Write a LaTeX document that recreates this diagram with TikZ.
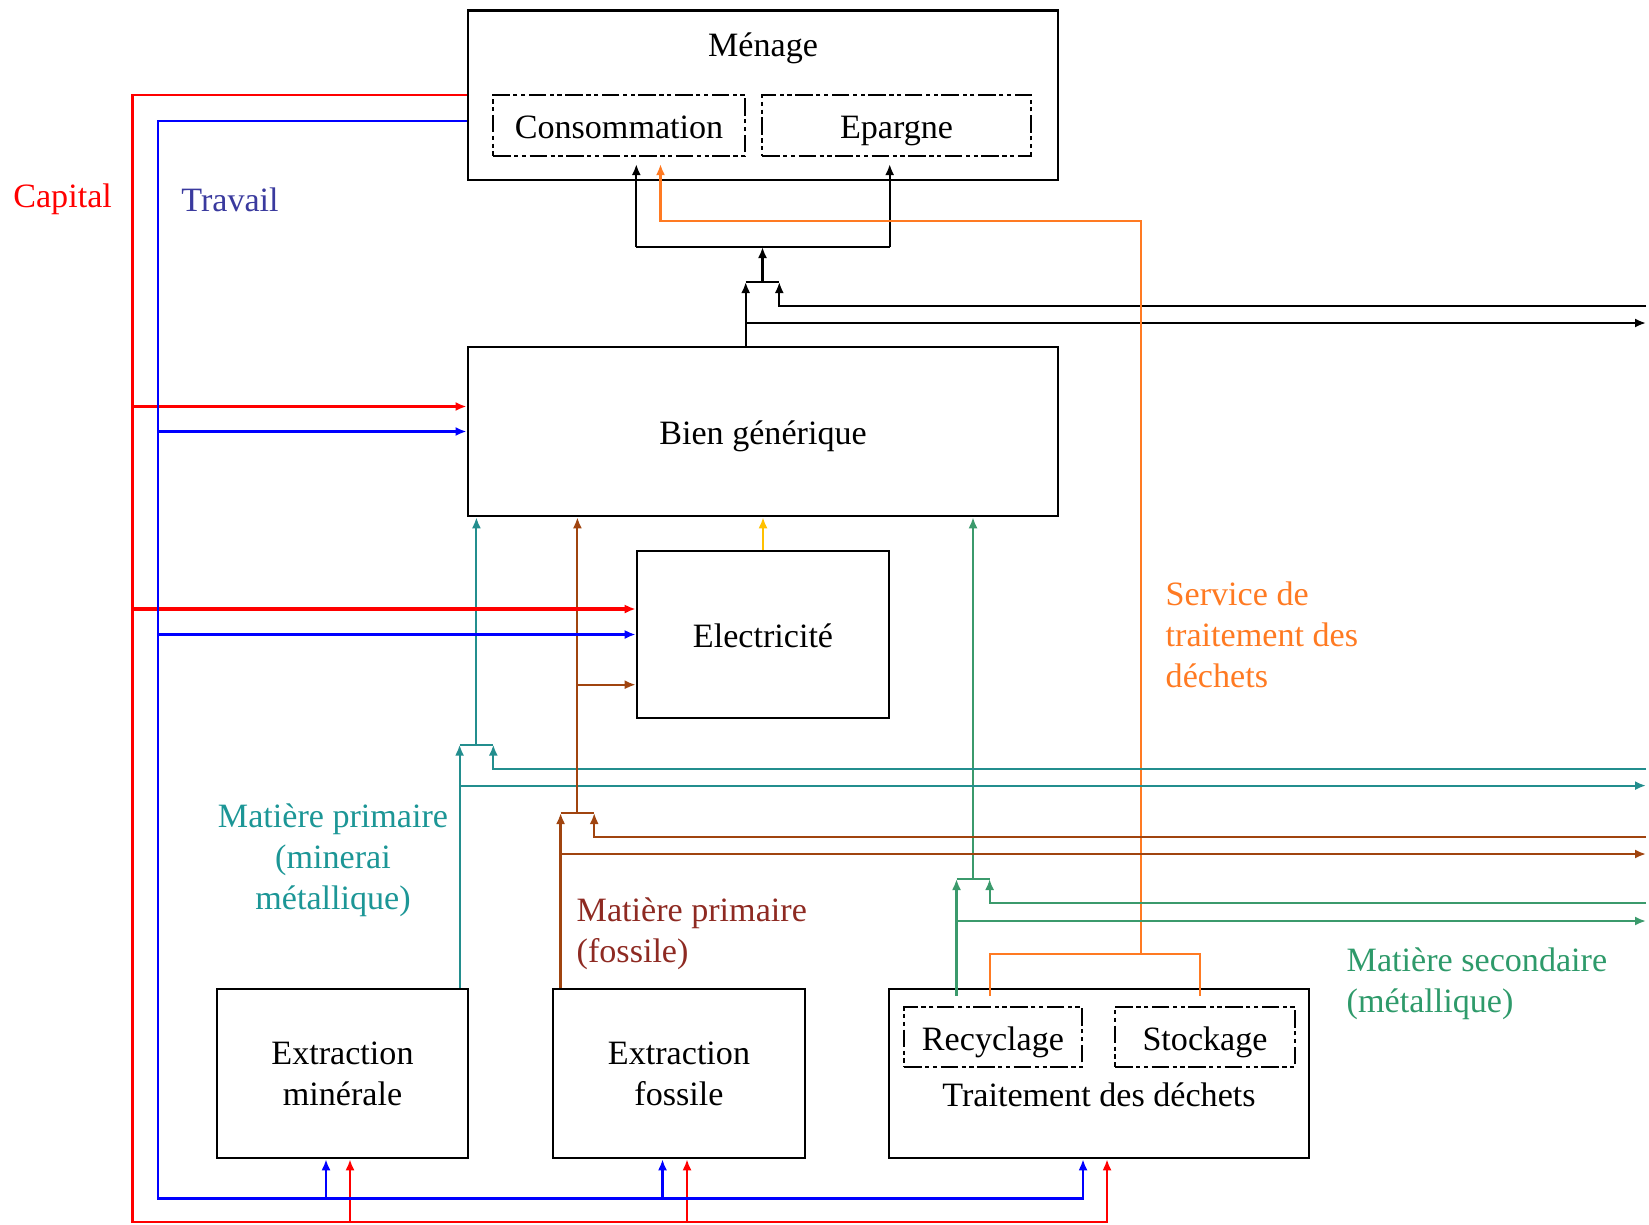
\documentclass[tikz,border=0pt]{standalone}
\usepackage{fontspec}
\setmainfont{Liberation Serif}
\usepackage{tikz}
\usetikzlibrary{arrows.meta,calc}
\definecolor{capred}{HTML}{FF0000}
\definecolor{travblue}{HTML}{0000FF}
\definecolor{travtext}{HTML}{3A3A9E}
\definecolor{minteal}{HTML}{238E8E}
\definecolor{mintext}{HTML}{1C9696}
\definecolor{fosbrown}{HTML}{A0440F}
\definecolor{fostext}{HTML}{8E2A22}
\definecolor{secgreen}{HTML}{3B9A6C}
\definecolor{sectext}{HTML}{2E9A6A}
\definecolor{dechorange}{HTML}{FF7A22}
\definecolor{elecyellow}{HTML}{FFC000}

\begin{document}
\begin{tikzpicture}[x=0.01cm,y=-0.01cm,
  font=\fontsize{9.7}{11.6}\selectfont,
  box/.style={draw,line width=0.7pt,inner sep=0pt,align=center},
  sub/.style={draw,line width=0.6pt,inner sep=0pt,text height=7.4pt,text depth=0pt,dash pattern=on 5pt off 1pt on 1.2pt off 1pt on 1.2pt off 1pt},
  txt/.style={inner sep=0pt,align=center},
  one/.style={text height=7.6pt,text depth=0pt},
  arr/.style={-{Latex[length=1.1mm,width=0.9mm]}},
  bflow/.style={line width=0.6pt},
  cflow/.style={capred,line width=0.6pt},
  tflow/.style={travblue,line width=0.6pt},
  mflow/.style={minteal,line width=0.6pt},
  fflow/.style={fosbrown,line width=0.6pt},
  sflow/.style={secgreen,line width=0.6pt},
  dflow/.style={dechorange,line width=0.6pt},
  eflow/.style={elecyellow,line width=0.6pt},
  heavy/.style={line width=0.9pt}
]
\useasboundingbox (0,0) rectangle (1649,1224);

\node[box,minimum width=5.9cm,minimum height=1.695cm] (menage) at (763,95.25) {};
\node[txt,one] (menageT) at (763,43) {Ménage};
\node[sub,minimum width=2.52cm,minimum height=0.61cm] (conso) at (619,125.5) {Consommation};
\node[sub,minimum width=2.69cm,minimum height=0.61cm] (epargne) at (896.5,125.5) {Epargne};
\node[box,one,minimum width=5.9cm,minimum height=1.69cm] (bien) at (763,431.5) {Bien générique};
\node[box,one,minimum width=2.52cm,minimum height=1.67cm] (elec) at (763,634.5) {Electricité};
\node[box,minimum width=2.51cm,minimum height=1.69cm] (extmin) at (342.5,1073.5) {Extraction\\minérale};
\node[box,minimum width=2.52cm,minimum height=1.69cm] (extfos) at (679,1073.5) {Extraction\\fossile};
\node[box,minimum width=4.2cm,minimum height=1.69cm] (traite) at (1099,1073.5) {};
\node[txt,one] (traiteT) at (1099,1093) {Traitement des déchets};
\node[sub,minimum width=1.78cm,minimum height=0.6cm] (recyc) at (993,1037) {Recyclage};
\node[sub,minimum width=1.8cm,minimum height=0.6cm] (stock) at (1205,1037) {Stockage};

\node[txt,one,text=capred] (capL) at (62.6,194) {Capital};
\node[txt,one,text=travtext] (travL) at (230,198) {Travail};
\node[txt,text=dechorange,anchor=west,align=left] (dechL) at (1165,635) {Service de\\traitement des\\déchets};
\node[txt,text=mintext] (minL) at (333,860) {Matière primaire\\(minerai\\métallique)};
\node[txt,text=fostext,anchor=west,align=left] (fosL) at (576,933.5) {Matière primaire\\(fossile)};
\node[txt,text=sectext,anchor=west,align=left] (secL) at (1346,983.5) {Matière secondaire\\(métallique)};

\coordinate (bkL) at (745.7,282);
\coordinate (bkR) at (779.3,282);
\coordinate (bkM) at (762.5,282);
\coordinate (bkT) at (762.5,247);
\coordinate (bkC) at (636.3,247);
\coordinate (bkE) at (889.7,247);
\coordinate (bkIn) at (1646,306);
\coordinate (bkOut) at (1646,323);
\draw[bflow,arr] (bien.north -| bkL) -- (bkL);
\draw[bflow,arr] (bkL |- bkOut) -- (bkOut);
\draw[bflow,arr] (bkIn) -| (bkR);
\draw[bflow] (bkL) -- (bkR);
\draw[bflow,arr] (bkM) -- (bkT);
\draw[bflow] (bkC) -- (bkE);
\draw[bflow,arr,shorten >=0.7mm] (bkC) -- (bkC |- conso.south);
\draw[bflow,arr,shorten >=0.7mm] (bkE) -- (bkE |- epargne.south);

\coordinate (orTop) at (1141,221);
\coordinate (orC) at (660.5,221);
\coordinate (orJ) at (1141,954);
\coordinate (orL) at (989.6,954);
\coordinate (orR) at (1200,954);
\draw[dflow,arr,shorten >=0.7mm] (orJ) -- (orTop) -- (orC) -- (orC |- conso.south);
\draw[dflow] ($(traite.north -| orL)+(0,8)$) -- (orL) -- (orR) -- ($(traite.north -| orR)+(0,8)$);

\coordinate (seL) at (956.5,879);
\coordinate (seR) at (989.6,879);
\coordinate (seM) at (973,879);
\coordinate (seIn) at (1646,903.4);
\coordinate (seOut) at (1646,921);
\draw[sflow,arr] ($(traite.north -| seL)+(0,8)$) -- (seL);
\draw[sflow,arr] (seL |- seOut) -- (seOut);
\draw[sflow,arr] (seIn) -| (seR);
\draw[sflow] (seL) -- (seR);
\draw[sflow,arr] (seM) -- (seM |- bien.south);

\coordinate (miL) at (459.6,744.6);
\coordinate (miR) at (493.3,744.6);
\coordinate (miM) at (476.4,744.6);
\coordinate (miIn) at (1646,768.8);
\coordinate (miOut) at (1646,785.6);
\draw[mflow,arr] (extmin.north -| miL) -- (miL);
\draw[mflow,arr] (miL |- miOut) -- (miOut);
\draw[mflow,arr] (miIn) -| (miR);
\draw[mflow] (miL) -- (miR);
\draw[mflow,arr] (miM) -- (miM |- bien.south);

\coordinate (foL) at (560.6,813);
\coordinate (foR) at (594.2,813);
\coordinate (foM) at (577.4,813);
\coordinate (foIn) at (1646,837);
\coordinate (foOut) at (1646,854);
\coordinate (foE) at (577.4,684.7);
\draw[fflow,heavy,arr] (extfos.north -| foL) -- (foL);
\draw[fflow,arr] (foL |- foOut) -- (foOut);
\draw[fflow,arr] (foIn) -| (foR);
\draw[fflow] (foL) -- (foR);
\draw[fflow,arr] (foM) -- (foM |- bien.south);
\draw[fflow,arr] (foE) -- (foE -| elec.west);

\draw[eflow,arr] (elec.north) -- (bien.south);

\coordinate (caB) at (132.5,1222);
\coordinate (caM) at ($(extmin.south)+(7.5,0)$);
\coordinate (caF) at ($(extfos.south)+(8,0)$);
\coordinate (caD) at ($(traite.south)+(8,0)$);
\coordinate (caBi) at ($(bien.west)+(0,-25)$);
\coordinate (caEl) at ($(elec.west)+(0,-25.5)$);
\draw[cflow,arr] (menage.west) -| (caB) -| (caD);
\draw[cflow,arr] (caM |- caB) -- (caM);
\draw[cflow,arr] (caF |- caB) -- (caF);
\draw[cflow,heavy,arr] (caBi -| caB) -- (caBi);
\draw[cflow,heavy,arr] (caEl -| caB) -- (caEl);

\coordinate (trT) at ($(menage.west)+(0,25.75)$);
\coordinate (trB) at (157.8,1198.5);
\coordinate (trM) at ($(extmin.south)+(-16.5,0)$);
\coordinate (trF) at ($(extfos.south)+(-16.5,0)$);
\coordinate (trD) at ($(traite.south)+(-16,0)$);
\draw[tflow,arr] (trT) -| (trB) -| (trD);
\draw[tflow,arr] (trM |- trB) -- (trM);
\draw[tflow,arr] (trF |- trB) -- (trF);
\draw[tflow,heavy,arr] (bien.west -| trB) -- (bien.west);
\draw[tflow,heavy,arr] (elec.west -| trB) -- (elec.west);
\end{tikzpicture}
\end{document}
